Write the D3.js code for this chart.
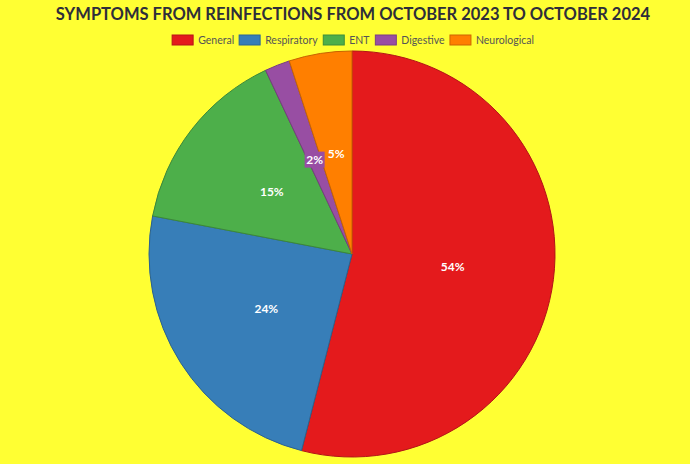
<!DOCTYPE html>
<html>
<head>
<meta charset="utf-8">
<script src="https://cdn.jsdelivr.net/npm/d3@7"></script>
<style>
  html, body { margin: 0; padding: 0; background: #ffff33; }
  svg { display: block; font-family: Lato, "Open Sans", sans-serif; }
</style>
</head>
<body>
<svg id="chart" width="690" height="464"></svg>
<script>
// data
const categories = ["General", "Respiratory", "ENT", "Digestive", "Neurological"];
const shares = [54, 24, 15, 2, 5];
const colors = ["#e41a1c", "#377eb8", "#4daf4a", "#984ea3", "#ff7f00"];
const title = "SYMPTOMS FROM REINFECTIONS FROM OCTOBER 2023 TO OCTOBER 2024";

const width = 690, height = 464;
const svg = d3.select("#chart");

svg.append("rect").attr("width", width).attr("height", height).attr("fill", "#ffff33");

// title
svg.append("text")
    .attr("x", 353).attr("y", 20)
    .attr("text-anchor", "middle")
    .attr("fill", "#2e2e3a")
    .style("font-size", "16.5px").style("font-weight", "bold")
    .text(title);

// legend: measure labels then center the row
const legend = svg.append("g");
const items = legend.selectAll("g").data(categories).join("g");
items.append("rect")
    .attr("width", 21).attr("height", 10)
    .attr("y", -9)
    .attr("fill", (d, i) => colors[i])
    .attr("stroke", (d, i) => d3.color(colors[i]).darker(0.6))
    .attr("stroke-width", 1);
items.append("text")
    .attr("x", 26).attr("y", 0)
    .attr("fill", "#555")
    .style("font-size", "10.5px")
    .text(d => d);

let xPos = 0;
items.each(function() {
    const w = this.getBBox().width;
    d3.select(this).attr("transform", `translate(${xPos},0)`);
    xPos += w + 5;
});
const totalW = xPos - 5;
legend.attr("transform", `translate(${353 - totalW / 2},44)`);

// pie
const cx = 352, cy = 254, r = 203;
const pie = d3.pie().sort(null).value(d => d);
const arcs = pie(shares);
const arc = d3.arc().innerRadius(0).outerRadius(r);
const labelArc = d3.arc().innerRadius(r / 2).outerRadius(r / 2);

const g = svg.append("g").attr("transform", `translate(${cx},${cy})`);

g.selectAll("path")
    .data(arcs)
    .join("path")
    .attr("d", arc)
    .attr("fill", (d, i) => colors[i])
    .attr("stroke", (d, i) => d3.color(colors[i]).darker(0.7))
    .attr("stroke-width", 1);

// labels at half radius, small slices get a filled box
const totalShare = d3.sum(shares);
const labels = g.selectAll("g.lbl")
    .data(arcs)
    .join("g")
    .attr("class", "lbl")
    .attr("transform", d => `translate(${labelArc.centroid(d)})`);

labels.filter(d => d.data / totalShare < 0.03)
    .append("rect")
    .attr("x", -10).attr("y", -8)
    .attr("width", 20).attr("height", 16)
    .attr("fill", (d, i) => colors[d.index]);

labels.append("text")
    .attr("text-anchor", "middle")
    .attr("dy", "0.35em")
    .attr("fill", "#fff")
    .style("font-size", "12px").style("font-weight", "bold")
    .text(d => Math.round(d.data / totalShare * 100) + "%");
</script>
</body>
</html>
